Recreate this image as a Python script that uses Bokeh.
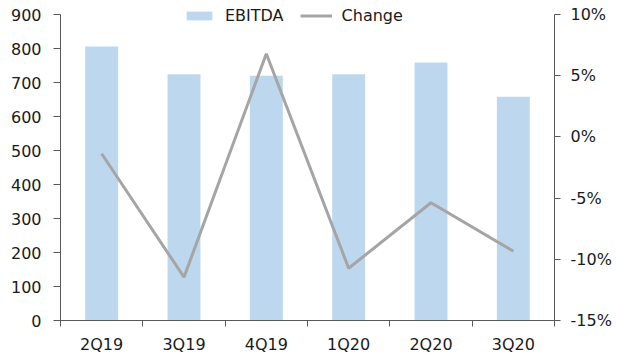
from bokeh.plotting import figure
from bokeh.models import (Range1d, LinearAxis, FixedTicker, NumeralTickFormatter,
                          Legend, LegendItem, ColumnDataSource)
from bokeh.embed import file_html
from bokeh.resources import INLINE

categories = ["2Q19", "3Q19", "4Q19", "1Q20", "2Q20", "3Q20"]
ebitda = [806, 724, 720, 724, 759, 658]
change = [-0.0138, -0.1146, 0.068, -0.1073, -0.0538, -0.0934]
left_ticks = [0, 100, 200, 300, 400, 500, 600, 700, 800, 900]
right_ticks = [-0.15, -0.10, -0.05, 0.0, 0.05, 0.10]

FONT = "DejaVu Sans"
TXT = "#1a1a1a"
AX = "#595959"

# frame spans canvas y 0..320; the axes themselves end at y=14 (top headroom for legend)
FRAME_H = 320
AXIS_H = 306
extra = FRAME_H / AXIS_H
l_lo, l_hi = left_ticks[0], left_ticks[-1]
r_lo, r_hi = right_ticks[0], right_ticks[-1]

xpos = [i + 0.5 for i in range(len(categories))]
src = ColumnDataSource(dict(x=xpos, ebitda=ebitda, change=change))

p = figure(width=617, height=358, output_backend="svg", toolbar_location=None,
           x_range=Range1d(0, len(categories)),
           y_range=Range1d(l_lo, l_lo + (l_hi - l_lo) * extra),
           x_axis_location=None, y_axis_location=None,
           min_border_left=60, min_border_right=63, min_border_top=0, min_border_bottom=38)
p.outline_line_color = None
p.xgrid.visible = False
p.ygrid.visible = False
p.background_fill_color = "white"
p.border_fill_color = "white"

p.extra_y_ranges = {"pct": Range1d(r_lo, r_lo + (r_hi - r_lo) * extra)}

bars = p.vbar(x="x", top="ebitda", width=0.4, bottom=0, source=src,
              fill_color="#bdd7ee", line_color=None)
line = p.line(x="x", y="change", source=src, y_range_name="pct",
              line_color="#a5a5a5", line_width=3)

def style(ax):
    ax.axis_line_color = AX
    ax.axis_line_width = 1
    ax.major_label_text_font = FONT
    ax.major_label_text_font_size = "16px"
    ax.major_label_text_color = TXT
    ax.major_tick_line_color = AX
    ax.minor_tick_line_color = AX
    ax.major_tick_in = 0
    ax.minor_tick_in = 0
    ax.minor_tick_out = 0

xaxis = LinearAxis(ticker=FixedTicker(ticks=xpos, minor_ticks=list(range(len(categories) + 1))),
                   major_label_overrides={x: c for x, c in zip(xpos, categories)})
style(xaxis)
xaxis.major_tick_out = 0
xaxis.minor_tick_out = 6
xaxis.major_label_standoff = 8
p.add_layout(xaxis, "below")

laxis = LinearAxis(ticker=FixedTicker(ticks=left_ticks, minor_ticks=[]), bounds=(l_lo, l_hi))
style(laxis)
laxis.major_tick_out = 7
laxis.major_label_standoff = 12
p.add_layout(laxis, "left")

raxis = LinearAxis(y_range_name="pct", ticker=FixedTicker(ticks=right_ticks, minor_ticks=[]),
                   formatter=NumeralTickFormatter(format="0%"), bounds=(r_lo, r_hi))
style(raxis)
raxis.major_tick_out = 6
raxis.major_label_standoff = 10
p.add_layout(raxis, "right")

legend = Legend(items=[LegendItem(label="EBITDA", renderers=[bars]),
                       LegendItem(label="Change", renderers=[line])],
                orientation="horizontal", location=(123, 295),
                glyph_width=32, glyph_height=11, label_standoff=10, spacing=16,
                padding=0, margin=0, border_line_color=None, background_fill_alpha=0,
                label_text_font=FONT, label_text_font_size="16px", label_text_color=TXT,
                label_height=20)
p.add_layout(legend)

open("out.html", "w").write(file_html(p, INLINE))
